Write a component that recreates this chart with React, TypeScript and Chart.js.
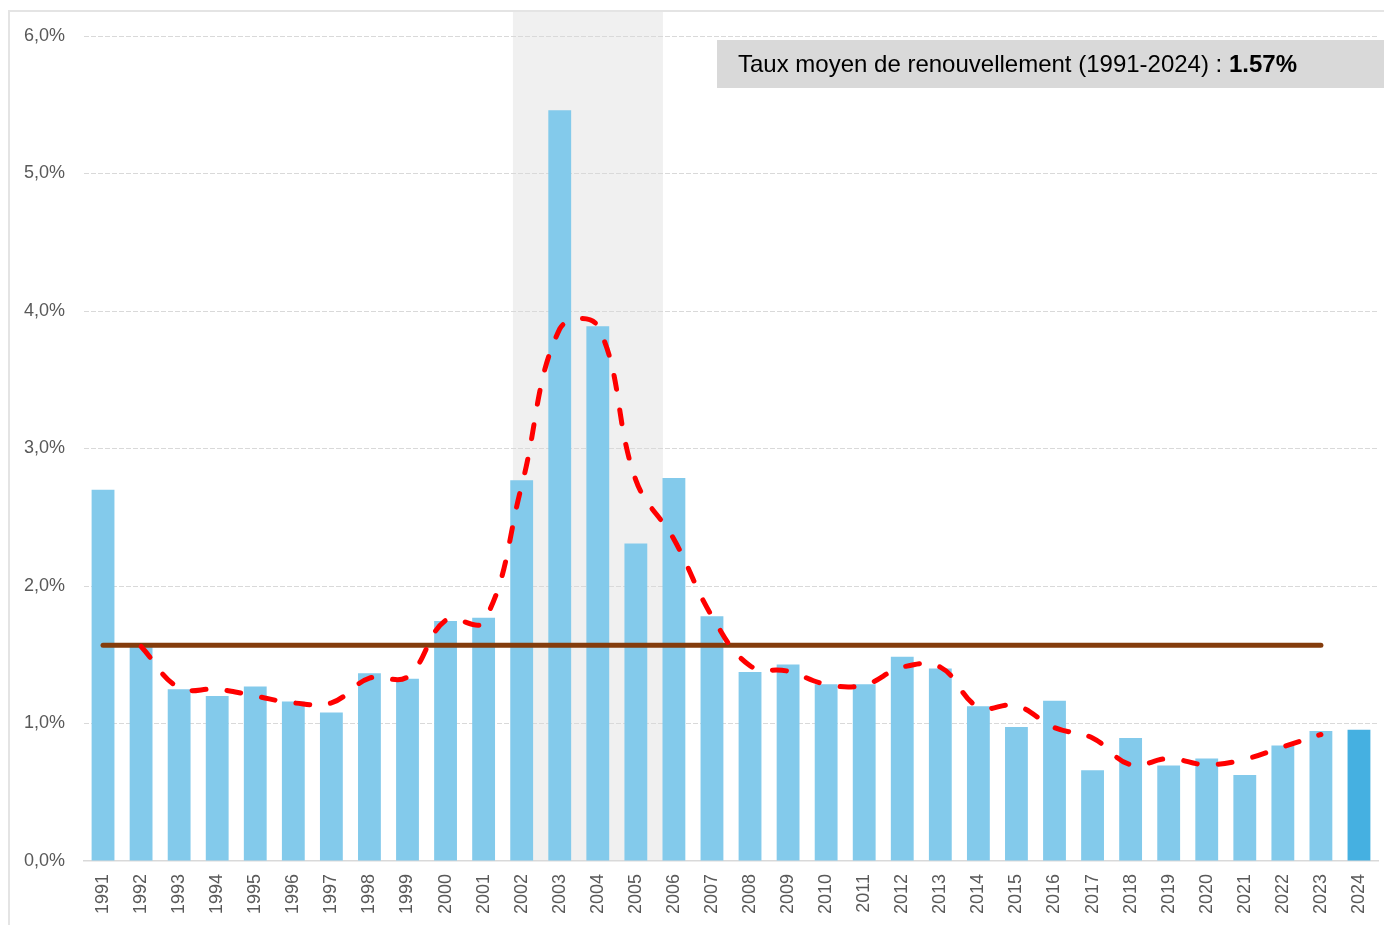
import React, { useEffect, useRef } from "react";
import { Chart, registerables } from "chart.js";

Chart.register(...registerables);

const YEARS = [
  "1991", "1992", "1993", "1994", "1995", "1996", "1997", "1998", "1999", "2000",
  "2001", "2002", "2003", "2004", "2005", "2006", "2007", "2008", "2009", "2010",
  "2011", "2012", "2013", "2014", "2015", "2016", "2017", "2018", "2019", "2020",
  "2021", "2022", "2023", "2024",
];

const RENEWAL_RATE = [
  2.70, 1.56, 1.25, 1.20, 1.27, 1.16, 1.08, 1.365, 1.325, 1.745,
  1.77, 2.77, 5.46, 3.89, 2.31, 2.785, 1.78, 1.375, 1.43, 1.285,
  1.285, 1.485, 1.40, 1.125, 0.975, 1.165, 0.66, 0.895, 0.695, 0.745,
  0.625, 0.84, 0.945, 0.955,
];

// smoothed trend (1992 -> 2023)
const TREND_YEARS = [
  "1992", "1993", "1994", "1995", "1996", "1997", "1998", "1999", "2000", "2001",
  "2002", "2003", "2004", "2005", "2006", "2007", "2008", "2009", "2010", "2011",
  "2012", "2013", "2014", "2015", "2016", "2017", "2018", "2019", "2020", "2021",
  "2022", "2023",
];
const TREND_VALUES = [
  1.56, 1.26, 1.25, 1.20, 1.15, 1.15, 1.33, 1.34, 1.75, 1.74,
  2.73, 3.87, 3.89, 2.77, 2.34, 1.78, 1.42, 1.38, 1.285, 1.28,
  1.41, 1.41, 1.12, 1.13, 0.97, 0.895, 0.70, 0.745, 0.70, 0.74,
  0.83, 0.92,
];

const AVERAGE_RATE = 1.57;
const AVERAGE_YEARS = ["1991", "2023"];
const HIGHLIGHT_YEAR = "2024";
const SHADED_YEARS = ["2002", "2005"];

const Y_TICK_LABELS = ["0,0%", "1,0%", "2,0%", "3,0%", "4,0%", "5,0%", "6,0%"];
const ANNOTATION_TEXT = "Taux moyen de renouvellement (1991-2024) : ";
const ANNOTATION_VALUE = "1.57%";

const BAR_COLOR = "#83CAEB";
const BAR_HIGHLIGHT = "#45B0E1";
const FONT = "'Liberation Sans', Arial, sans-serif";

export default function App() {
  const ref = useRef<HTMLCanvasElement | null>(null);

  useEffect(() => {
    if (!ref.current) return;

    const trendData = YEARS.map((y) => {
      const i = TREND_YEARS.indexOf(y);
      return i >= 0 ? TREND_VALUES[i] : null;
    });
    const avgFrom = YEARS.indexOf(AVERAGE_YEARS[0]);
    const avgTo = YEARS.indexOf(AVERAGE_YEARS[1]);
    const avgData = YEARS.map((_, i) => (i >= avgFrom && i <= avgTo ? AVERAGE_RATE : null));

    const decor = {
      id: "decor",
      beforeDraw(chart: any) {
        const { ctx, chartArea } = chart;
        const xs = chart.scales.x;
        ctx.save();
        // outer frame
        ctx.fillStyle = "#e4e4e4";
        ctx.fillRect(8, 10, 2, chart.height);
        ctx.fillRect(8, 10, chart.width, 2);
        // shaded period
        const w = xs.getPixelForValue(1) - xs.getPixelForValue(0);
        const left = xs.getPixelForValue(YEARS.indexOf(SHADED_YEARS[0])) - 0.23 * w;
        const right = xs.getPixelForValue(YEARS.indexOf(SHADED_YEARS[1])) + 0.71 * w;
        ctx.fillStyle = "#f0f0f0";
        ctx.fillRect(left, 12, right - left, chartArea.bottom - 12);
        ctx.restore();
      },
      afterDraw(chart: any) {
        const { ctx } = chart;
        ctx.save();
        ctx.fillStyle = "#d9d9d9";
        ctx.fillRect(717, 40, chart.width - 717, 48);
        ctx.fillStyle = "#000000";
        ctx.textBaseline = "alphabetic";
        ctx.textAlign = "left";
        ctx.font = `24px ${FONT}`;
        ctx.fillText(ANNOTATION_TEXT, 738, 72);
        const tw = ctx.measureText(ANNOTATION_TEXT).width;
        ctx.font = `bold 24px ${FONT}`;
        ctx.fillText(ANNOTATION_VALUE, 738 + tw, 72);
        ctx.restore();
      },
    };

    const chart = new Chart(ref.current, {
      type: "bar",
      data: {
        labels: YEARS,
        datasets: [
          {
            type: "line",
            label: "Tendance",
            data: trendData,
            borderColor: "#FF0000",
            borderWidth: 5,
            borderDash: [14, 21],
            borderCapStyle: "round",
            tension: 0.4,
            pointRadius: 0,
            fill: false,
            order: 1,
          } as any,
          {
            type: "line",
            label: "Moyenne",
            data: avgData,
            borderColor: "#843C0C",
            borderWidth: 5,
            borderCapStyle: "round",
            pointRadius: 0,
            fill: false,
            order: 2,
          } as any,
          {
            type: "bar",
            label: "Taux de renouvellement",
            data: RENEWAL_RATE,
            backgroundColor: YEARS.map((y) => (y === HIGHLIGHT_YEAR ? BAR_HIGHLIGHT : BAR_COLOR)),
            borderWidth: 0,
            categoryPercentage: 1,
            barPercentage: 0.6,
            order: 3,
          },
        ],
      },
      options: {
        animation: false,
        responsive: false,
        layout: { padding: { left: 24, right: 6, top: 36, bottom: 11 } },
        plugins: {
          legend: { display: false },
          tooltip: { enabled: false },
        },
        scales: {
          x: {
            offset: true,
            grid: { display: false, drawTicks: false },
            border: { display: true, color: "#d9d9d9", width: 1.5 },
            ticks: {
              autoSkip: false,
              maxRotation: 90,
              minRotation: 90,
              padding: 13,
              color: "#595959",
              font: { family: FONT, size: 18 },
            },
            afterFit: (s: any) => {
              s.height = 53;
              s.paddingLeft = 0;
              s.paddingRight = 0;
            },
          },
          y: {
            min: 0,
            max: 6,
            ticks: {
              stepSize: 1,
              padding: 19,
              color: "#595959",
              font: { family: FONT, size: 18 },
              callback: (v: any) => Y_TICK_LABELS[Math.round(Number(v))] ?? "",
            },
            grid: {
              color: (c: any) => (c.tick && c.tick.value === 0 ? "rgba(0,0,0,0)" : "#d9d9d9"),
              lineWidth: 1,
              drawTicks: false,
            },
            border: { display: false, dash: [5, 2] },
            afterFit: (s: any) => {
              s.width = 60;
            },
          } as any,
        },
      },
      plugins: [decor],
    });

    return () => chart.destroy();
  }, []);

  return (
    <canvas
      ref={ref}
      width={1384}
      height={925}
      style={{ position: "fixed", left: 0, top: 0, display: "block" }}
    />
  );
}
